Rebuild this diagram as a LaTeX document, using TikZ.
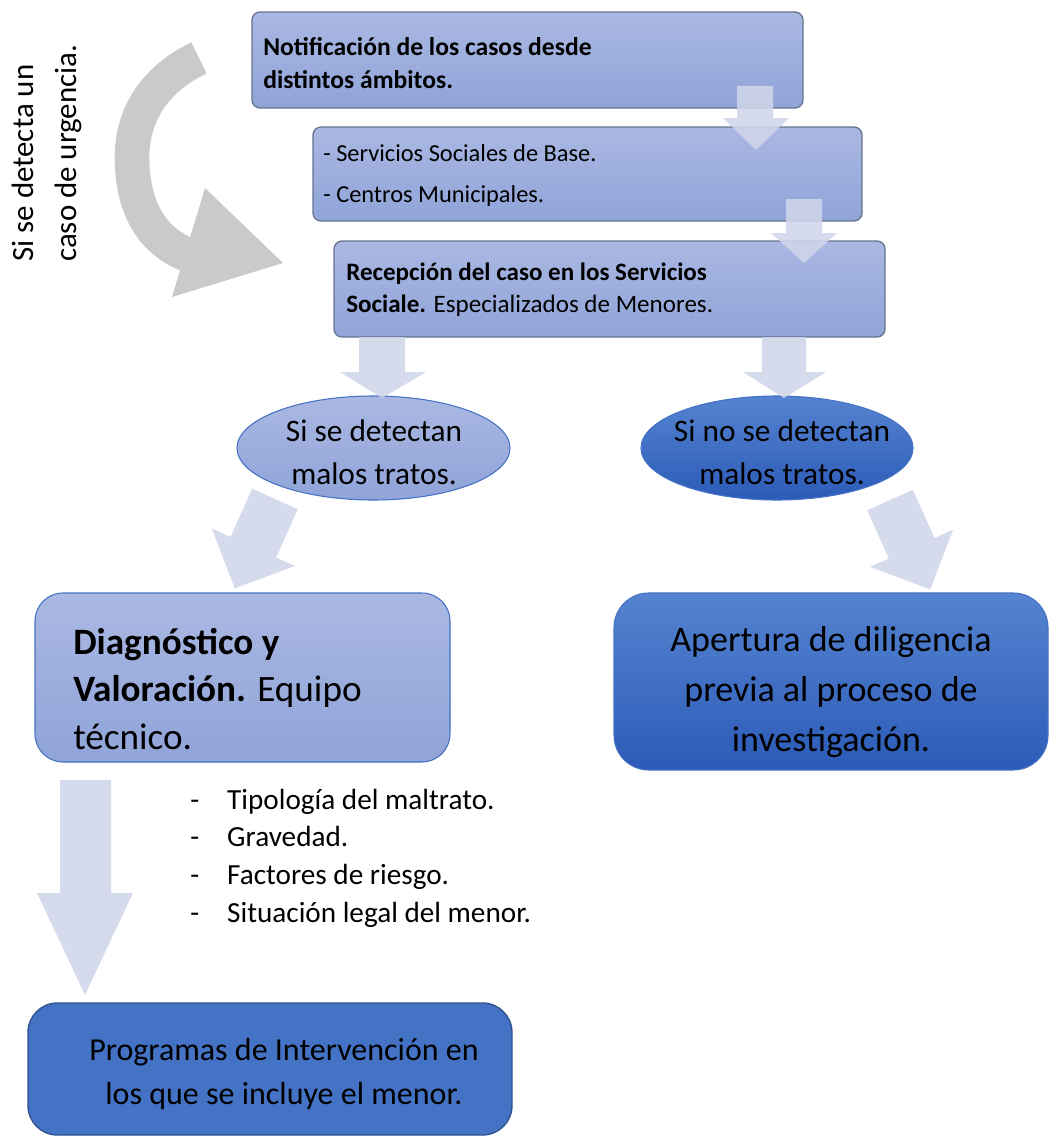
\documentclass[tikz,border=0pt]{standalone}
\usepackage{fontspec}
\setmainfont{Carlito}
\usetikzlibrary{shapes.geometric}
\definecolor{boxtop}{HTML}{AAB8E2}
\definecolor{boxbot}{HTML}{90A4D9}
\definecolor{boxline}{HTML}{66738F}
\definecolor{blueline}{HTML}{4472C4}
\definecolor{darktop}{HTML}{5583D0}
\definecolor{darkbot}{HTML}{2C5BB8}
\definecolor{flatblue}{HTML}{4472C4}
\definecolor{flatline}{HTML}{2F528F}
\definecolor{arrowc}{HTML}{CFD5EA}
\definecolor{grayarrow}{HTML}{CACACA}
\begin{document}
\begin{tikzpicture}[x=0.75pt,y=-0.75pt,
  stepbox/.style={draw=boxline, line width=1pt, rounded corners=6pt, top color=boxtop, bottom color=boxbot, inner sep=0, rectangle},
  lightell/.style={ellipse, draw=blueline, line width=0.8pt, top color=boxtop, bottom color=boxbot, inner sep=0},
  darkell/.style={ellipse, draw=blueline, line width=0.8pt, top color=darktop, bottom color=darkbot, inner sep=0},
  lightround/.style={rectangle, draw=blueline, line width=0.8pt, rounded corners=21pt, top color=boxtop, bottom color=boxbot, inner sep=0},
  darkround/.style={rectangle, draw=blueline, line width=0.8pt, rounded corners=26pt, top color=darktop, bottom color=darkbot, inner sep=0},
  flatround/.style={rectangle, draw=flatline, line width=1pt, rounded corners=22pt, fill=flatblue, inner sep=0},
  blockarrow/.style={fill=arrowc, draw=none, fill opacity=0.88},
  txt/.style={inner sep=0, text=black}
]
\useasboundingbox (0,0) rectangle (1057,1138);

% curved gray arrow
\draw[grayarrow, line width=26pt] (199,58) .. controls (152,80) and (132,118) .. (132,157)
   .. controls (132,205) and (150,240) .. (188,255);
\fill[grayarrow] (205,188) -- (283,263) -- (172,297) -- cycle;

% rotated label
\node[txt, rotate=90, anchor=west, align=left, font=\fontsize{23.2}{32.25}\selectfont] (urg) at (46.5,262)
  {Si se detecta un\\caso de urgencia.};

% top boxes
\node[stepbox, minimum width=413.25pt, minimum height=72pt] (b1) at (527.5,60) {};
\node[stepbox, minimum width=411.75pt, minimum height=70.5pt] (b2) at (587.5,174) {};
\node[stepbox, minimum width=413.25pt, minimum height=72pt] (b3) at (609.5,289) {};

\node[txt, anchor=west, align=left, font=\fontsize{19.2}{24.5}\selectfont] (t1) at (263,63)
  {\textbf{Notificación de los casos desde}\\\textbf{distintos ámbitos.}};
\node[txt, anchor=west, align=left, font=\fontsize{18.3}{30.75}\selectfont] (t2) at (323,175.5)
  {- Servicios Sociales de Base.\\- Centros Municipales.};
\node[txt, anchor=west, align=left, font=\fontsize{18.8}{24}\selectfont] (t3) at (346,290)
  {\textbf{Recepción del caso en los Servicios}\\\textbf{Sociale.} Especializados de Menores.};

% small down arrows between boxes
\path[blockarrow] (737,86) -- (773,86) -- (773,118) -- (789,118) -- (756,150) -- (723,118) -- (737,118) -- cycle;
\path[blockarrow] (786,199) -- (822,199) -- (822,233) -- (837,233) -- (804,263) -- (771,233) -- (786,233) -- cycle;

% ellipses
\node[lightell, minimum width=204.75pt, minimum height=78pt] (e1) at (373.5,448) {};
\node[darkell, minimum width=204pt, minimum height=78pt] (e2) at (777,448) {};
\node[txt, align=center, font=\fontsize{23.5}{32}\selectfont] (te1) at (374,452) {Si se detectan\\malos tratos.};
\node[txt, align=center, font=\fontsize{23.5}{32}\selectfont] (te2) at (782,452) {Si no se detectan\\malos tratos.};

% arrows from box 3
\path[blockarrow] (359,337) -- (405,337) -- (405,372) -- (426,372) -- (382,398) -- (340,372) -- (359,372) -- cycle;
\path[blockarrow] (762,337) -- (806,337) -- (806,372) -- (826,372) -- (784,398) -- (743,372) -- (762,372) -- cycle;

% slanted arrows
\path[blockarrow] (252.2,488.7) -- (297.8,509.3) -- (276.1,557.6) -- (294.8,566.0) -- (234.8,588.4) -- (211.8,528.6) -- (230.5,537.0) -- cycle;
\path[blockarrow] (867.2,510.3) -- (912.8,489.8) -- (934.5,538.0) -- (953.2,529.6) -- (930.2,589.4) -- (870.2,566.9) -- (888.9,558.5) -- cycle;

% lower boxes
\node[lightround, minimum width=311.25pt, minimum height=126.75pt] (diag) at (242.5,677.5) {};
\node[txt, anchor=west, align=left, font=\fontsize{27.9}{35.3}\selectfont] (tdiag) at (73,689)
  {\textbf{Diagnóstico y}\\\textbf{Valoración.} Equipo\\técnico.};

\node[darkround, minimum width=325.5pt, minimum height=132.75pt] (aper) at (831,681.5) {};
\node[txt, align=center, font=\fontsize{27}{37.5}\selectfont] (taper) at (831,692)
  {Apertura de diligencia\\previa al proceso de\\investigación.};

% long arrow
\path[blockarrow] (60,780) -- (111,780) -- (111,893) -- (133,893) -- (85,995) -- (37,893) -- (60,893) -- cycle;

% list
\node[txt, anchor=west, align=left, font=\fontsize{21.9}{28.3}\selectfont] (list) at (190,858)
  {\makebox[27.75pt][l]{-}Tipología del maltrato.\\
   \makebox[27.75pt][l]{-}Gravedad.\\
   \makebox[27.75pt][l]{-}Factores de riesgo.\\
   \makebox[27.75pt][l]{-}Situación legal del menor.};

% programas
\node[flatround, minimum width=363pt, minimum height=99pt] (prog) at (270,1069) {};
\node[txt, align=center, font=\fontsize{24}{32.5}\selectfont] (tprog) at (284,1074)
  {Programas de Intervención en\\los que se incluye el menor.};
\end{tikzpicture}
\end{document}
